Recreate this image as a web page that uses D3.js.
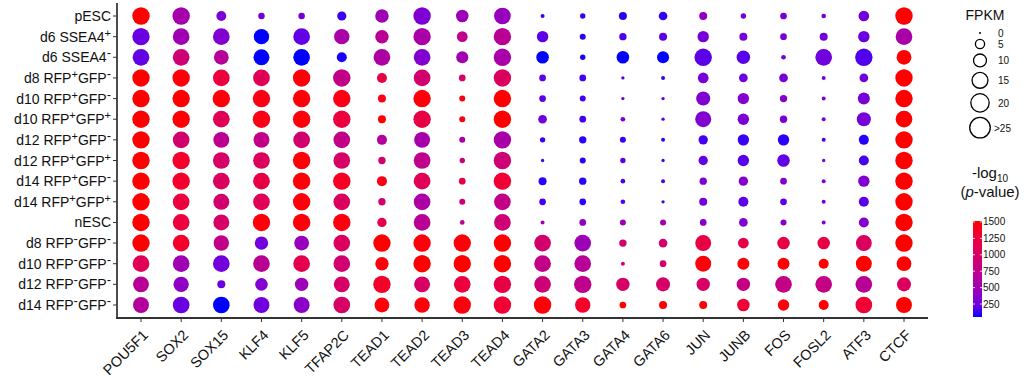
<!DOCTYPE html>
<html>
<head>
<meta charset="utf-8">
<script src="https://cdn.jsdelivr.net/npm/d3@7/dist/d3.min.js"></script>
<style>
  body { margin: 0; background: #fff; }
  text { font-family: "Liberation Sans", Arial, sans-serif; fill: #111; }
</style>
</head>
<body>
<svg id="chart" width="1024" height="389"></svg>
<script>
// genes along x, samples along y
var genes = ["POU5F1","SOX2","SOX15","KLF4","KLF5","TFAP2C","TEAD1","TEAD2","TEAD3","TEAD4",
             "GATA2","GATA3","GATA4","GATA6","JUN","JUNB","FOS","FOSL2","ATF3","CTCF"];

var samples = ["pESC","d6 SSEA4+","d6 SSEA4-","d8 RFP+GFP-","d10 RFP+GFP-","d10 RFP+GFP+",
               "d12 RFP+GFP-","d12 RFP+GFP+","d14 RFP+GFP-","d14 RFP+GFP+","nESC",
               "d8 RFP-GFP-","d10 RFP-GFP-","d12 RFP-GFP-","d14 RFP-GFP-"];

// FPKM (capped at 25), one row per sample
var fpkm = [
  [25,25,8,3.5,3.5,7,15,25,13,23,1.3,2.4,5.3,6.2,5.3,2.4,3.7,1.8,9.5,25],
  [25,23,23,19.6,23,19.6,15,25,9.5,25,10.7,3,4.5,5.3,10.7,5.3,3.7,5.3,10.7,23],
  [23,23,18,21,23,8.3,23,23,12,25,13,2.4,13,12,25,15,1.8,23,25,18],
  [25,25,23,23,25,25,8.3,23,3.7,25,3.7,3.7,0.9,1.3,9.5,6.2,6.2,1.3,6.2,25],
  [25,25,25,25,25,25,5.3,25,3,25,3.7,3,0.9,0.9,16.3,10.7,4.5,1.3,12,25],
  [25,25,23,25,25,25,5.3,25,3,25,6.2,3.7,1.8,0.9,21,10.7,4.5,1.3,16.3,23],
  [25,23,21,21,23,23,8.3,21,3,25,2.4,4.5,3,1.3,7.2,10.7,10.7,1.3,8.3,25],
  [25,25,23,23,25,23,4.5,23,2.4,25,0.9,3,2.4,0.9,7.2,10.7,13,0.9,8.3,25],
  [25,25,23,23,25,25,8.3,23,3.7,25,5.3,4.5,1.8,1.3,4.5,7.2,3.7,1.3,10.7,25],
  [25,23,21,23,25,23,4.5,23,3,23,3.7,3.7,1.8,0.9,5.3,8.3,3.7,1.3,8.3,25],
  [25,23,21,25,25,25,7.2,23,1.8,23,1.3,3.7,3,3,3.7,6.2,3,1.3,8.3,25],
  [25,23,19.6,14.8,18,23,25,25,25,25,23,23,4.5,6.2,21,9.5,13,13,21,25],
  [23,23,23,23,23,23,14.8,25,25,25,23,23,1.3,3.7,21,12,12,8.3,21,18],
  [21,19.6,5.3,13,14.8,21,25,21,23,25,23,25,14.8,16.3,14.8,14.8,23,23,23,16.3],
  [21,23,23,21,21,23,18,19.6,25,25,25,19.6,3.7,5.3,5.3,13,10.7,8.3,23,21]
];

// -log10(p-value)
var logp = [
  [1500,550,300,250,280,100,500,320,480,450,100,100,80,90,400,250,300,280,250,1500],
  [230,500,330,30,200,580,700,580,750,700,180,80,150,180,280,250,300,250,230,580],
  [200,900,680,20,40,60,600,330,520,570,40,60,40,40,180,170,250,250,150,1500],
  [1500,1480,1250,1100,1480,780,1200,950,1000,1050,180,120,150,100,280,230,280,280,250,1500],
  [1500,1500,1480,1450,1480,1450,1450,1480,1450,1500,180,120,250,200,320,330,330,300,280,1500],
  [1500,1490,1100,1450,1480,1250,1500,1200,1450,1500,250,120,280,150,330,300,280,260,280,1500],
  [1500,950,720,780,950,780,650,550,550,580,100,80,100,80,120,100,80,120,70,1500],
  [1500,1350,1000,1050,1480,1000,950,750,850,900,120,80,180,120,200,170,200,250,120,1500],
  [1500,1350,1050,1200,1480,1400,1450,1100,1200,1300,80,80,150,120,320,330,330,300,330,1500],
  [1500,1250,950,1100,1480,1050,950,600,900,780,120,80,150,120,270,180,180,250,170,1500],
  [1500,1250,1000,1480,1480,1470,1150,700,700,900,500,420,500,500,330,330,330,330,330,1500],
  [1500,1350,780,260,450,1050,1500,1480,1480,1500,950,480,950,950,1200,1200,1200,1200,1050,1500],
  [1100,500,260,700,1150,920,1480,1500,1500,1500,780,680,950,920,1480,1480,1500,1500,1500,1500],
  [680,400,220,330,480,1000,1350,1000,1250,1200,900,750,1000,1000,1000,800,800,800,700,1050],
  [650,220,30,250,380,1000,1480,1480,1470,1300,1480,1350,1500,1500,1480,1300,1480,1500,1300,1500]
];

var sizeBreaks = [0, 5, 10, 15, 20, 25];
var sizeLabels = ["0", "5", "10", "15", "20", ">25"];
var colorTicks = [250, 500, 750, 1000, 1250, 1500];

var svg = d3.select("#chart");

var x = d3.scalePoint().domain(genes).range([141, 904]);
var y = d3.scalePoint().domain(samples).range([16, 305]);
var r = d3.scaleSqrt().domain([0, 25]).range([0, 8.7]).clamp(true);
var color = d3.scaleLinear().domain([50, 1500]).range(["blue", "red"])
    .interpolate(d3.interpolateLab).clamp(true);

// flatten the matrix into points
var cells = [];
samples.forEach(function(s, i) {
  genes.forEach(function(g, j) {
    cells.push({sample: s, gene: g, fpkm: fpkm[i][j], p: logp[i][j]});
  });
});

svg.append("g").selectAll("circle")
  .data(cells)
  .enter().append("circle")
    .attr("cx", function(d) { return x(d.gene); })
    .attr("cy", function(d) { return y(d.sample); })
    .attr("r", function(d) { return Math.max(1, r(d.fpkm)); })
    .attr("fill", function(d) { return color(d.p); });

// axes
var axisColor = "#333";
svg.append("line")
    .attr("x1", 117).attr("x2", 117).attr("y1", 3).attr("y2", 318)
    .attr("stroke", "#111").attr("stroke-width", 1.5);
svg.append("line")
    .attr("x1", 116).attr("x2", 928).attr("y1", 318).attr("y2", 318)
    .attr("stroke", axisColor).attr("stroke-width", 2);

svg.append("g").selectAll("line")
  .data(genes)
  .enter().append("line")
    .attr("x1", function(d) { return x(d); }).attr("x2", function(d) { return x(d); })
    .attr("y1", 319).attr("y2", 322)
    .attr("stroke", axisColor).attr("stroke-width", 1);

svg.append("g").selectAll("line")
  .data(samples)
  .enter().append("line")
    .attr("x1", 113).attr("x2", 117)
    .attr("y1", function(d) { return y(d); }).attr("y2", function(d) { return y(d); })
    .attr("stroke", axisColor).attr("stroke-width", 1);

// y labels, + and - set as superscripts
var ylab = svg.append("g").selectAll("text")
  .data(samples)
  .enter().append("text")
    .attr("x", 111)
    .attr("y", function(d) { return y(d) + 5; })
    .attr("text-anchor", "end")
    .style("font-size", "14px");

ylab.each(function(d) {
  var t = d3.select(this);
  var parts = d.split(/([+-])/).filter(function(p) { return p.length; });
  var up = false;
  parts.forEach(function(p) {
    if (p === "+" || p === "-") {
      t.append("tspan").attr("dy", -5).style("font-size", p === "-" ? "13px" : "11px").text(p);
      up = true;
    } else {
      t.append("tspan").attr("dy", up ? 5 : 0).text(p);
      up = false;
    }
  });
});

// x labels
svg.append("g").selectAll("text")
  .data(genes)
  .enter().append("text")
    .attr("transform", function(d) { return "translate(" + (x(d) + 8) + ",336) rotate(-45)"; })
    .attr("text-anchor", "end")
    .style("font-size", "14.5px")
    .text(function(d) { return d; });

// size legend
svg.append("text")
    .attr("x", 985).attr("y", 20)
    .attr("text-anchor", "middle")
    .style("font-size", "14px")
    .text("FPKM");

var lr = function(v) { return Math.max(1, r(v) * 1.18); };
var ly = [], yy = 33;
sizeBreaks.forEach(function(v, i) {
  if (i > 0) yy += lr(sizeBreaks[i - 1]) + lr(v) + 5.4;
  ly.push(yy);
});

var sl = svg.append("g").selectAll("g")
  .data(sizeBreaks)
  .enter().append("g");
sl.append("circle")
    .attr("cx", 980)
    .attr("cy", function(d, i) { return ly[i]; })
    .attr("r", function(d) { return lr(d); })
    .attr("fill", function(d) { return d === 0 ? "#000" : "none"; })
    .attr("stroke", "#000")
    .attr("stroke-width", function(d) { return d === 0 ? 0 : 1.3; });
sl.append("text")
    .attr("x", function(d, i) { return i === 5 ? 994 : 998; })
    .attr("y", function(d, i) { return ly[i] + 4; })
    .style("font-size", "10px")
    .text(function(d, i) { return sizeLabels[i]; });

// colour bar
var cy = d3.scaleLinear().domain([52, 1515]).range([317, 221]);
var defs = svg.append("defs");
var grad = defs.append("linearGradient")
    .attr("id", "pgrad")
    .attr("x1", 0).attr("x2", 0).attr("y1", 1).attr("y2", 0);
d3.range(0, 1.0001, 0.1).forEach(function(t) {
  var v = 52 + t * (1515 - 52);
  grad.append("stop").attr("offset", t).attr("stop-color", color(v));
});

svg.append("rect")
    .attr("x", 973).attr("y", cy(1515))
    .attr("width", 9).attr("height", cy(52) - cy(1515))
    .attr("fill", "url(#pgrad)");

var ct = svg.append("g").selectAll("g")
  .data(colorTicks)
  .enter().append("g");
ct.append("line")
    .attr("x1", 973).attr("x2", 975)
    .attr("y1", function(d) { return cy(d); }).attr("y2", function(d) { return cy(d); })
    .attr("stroke", "#fff").attr("stroke-width", 0.8);
ct.append("line")
    .attr("x1", 980).attr("x2", 982)
    .attr("y1", function(d) { return cy(d); }).attr("y2", function(d) { return cy(d); })
    .attr("stroke", "#fff").attr("stroke-width", 0.8);
ct.append("text")
    .attr("x", 983)
    .attr("y", function(d) { return cy(d) + 3.5; })
    .style("font-size", "10px")
    .text(function(d) { return d; });

var t1 = svg.append("text")
    .attr("x", 990).attr("y", 178)
    .attr("text-anchor", "middle")
    .style("font-size", "15px");
t1.append("tspan").text("-log");
t1.append("tspan").attr("dy", 4).style("font-size", "10px").text("10");

var t2 = svg.append("text")
    .attr("x", 990).attr("y", 197)
    .attr("text-anchor", "middle")
    .style("font-size", "15px");
t2.append("tspan").text("(");
t2.append("tspan").style("font-style", "italic").text("p");
t2.append("tspan").text("-value)");
</script>
</body>
</html>
